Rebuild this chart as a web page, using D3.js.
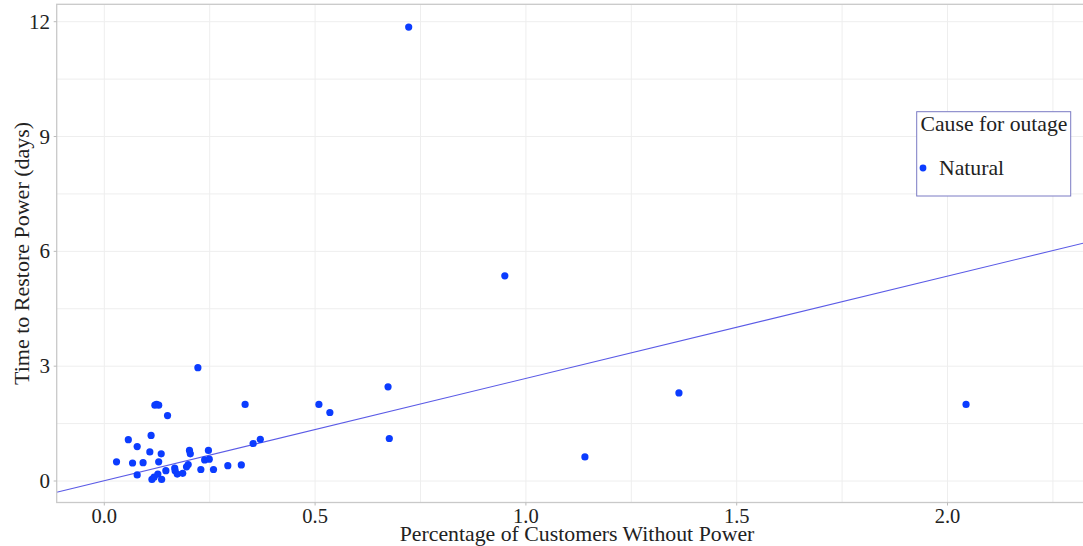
<!DOCTYPE html>
<head>
  <meta charset="utf-8">
  <script src="https://d3js.org/d3.v7.min.js"></script>
  <style>
    body { margin:0; background:#fff; }
    text { font-family: "Liberation Serif", "DejaVu Serif", serif; fill:#222; }
  </style>
</head>
<body>
<script>
// percentage of customers without power
var pctOut = [0.029, 0.057, 0.067, 0.078, 0.078, 0.092, 0.108, 0.111, 0.113, 0.118,
              0.120, 0.124, 0.129, 0.127, 0.129, 0.135, 0.136, 0.146, 0.150, 0.167,
              0.168, 0.173, 0.186, 0.195, 0.199, 0.202, 0.204, 0.222, 0.229, 0.238,
              0.247, 0.249, 0.259, 0.293, 0.325, 0.334, 0.353, 0.370, 0.509, 0.535,
              0.673, 0.676, 0.722, 0.950, 1.140, 1.363, 2.044];
// days to restore
var restoreDays = [0.50, 1.08, 0.47, 0.90, 0.16, 0.48, 0.76, 1.19, 0.04, 0.10,
                   1.98, 2.00, 1.98, 0.18, 0.50, 0.71, 0.04, 0.27, 1.71, 0.34,
                   0.27, 0.18, 0.20, 0.37, 0.43, 0.80, 0.71, 2.96, 0.30, 0.55,
                   0.80, 0.57, 0.30, 0.40, 0.42, 2.00, 0.98, 1.09, 2.00, 1.79,
                   2.46, 1.11, 11.86, 5.36, 0.63, 2.30, 2.00];
var causeLabels = ["Natural"];
var fitCoef = { intercept: 0.007, slope: 2.673 };
var xTicks = [0, 0.5, 1, 1.5, 2];
var xMinor = [0.25, 0.75, 1.25, 1.75, 2.25];
var yTicks = [0, 3, 6, 9, 12];
var yMinor = [1.5, 4.5, 7.5, 10.5];

var W = 1083, H = 546;
// panel edges (window.top is reserved, so use p* names)
var pL = 56.7, pR = 1100, pT = 4.3, pB = 502.5;

var svg = d3.select("body").append("svg").attr("width", W).attr("height", H);

var x = d3.scaleLinear().domain([0, 2]).range([104.3, 947.5]);
var y = d3.scaleLinear().domain([0, 12]).range([481, 21.7]);

svg.append("clipPath").attr("id", "panel")
  .append("rect").attr("x", pL).attr("y", pT)
  .attr("width", pR - pL).attr("height", pB - pT);

var grid = svg.append("g").attr("clip-path", "url(#panel)");
grid.selectAll(".vx").data(xTicks.concat(xMinor)).enter().append("line")
  .attr("x1", d => x(d)).attr("x2", d => x(d))
  .attr("y1", pT).attr("y2", pB)
  .attr("stroke", "#eeeeee").attr("stroke-width", 1);
grid.selectAll(".hy").data(yTicks.concat(yMinor)).enter().append("line")
  .attr("y1", d => y(d)).attr("y2", d => y(d))
  .attr("x1", pL).attr("x2", pR)
  .attr("stroke", "#eeeeee").attr("stroke-width", 1);

// fitted line
var x0 = x.invert(pL), x1 = x.invert(pR);
grid.append("line")
  .attr("x1", x(x0)).attr("y1", y(fitCoef.intercept + fitCoef.slope * x0))
  .attr("x2", x(x1)).attr("y2", y(fitCoef.intercept + fitCoef.slope * x1))
  .attr("stroke", "#5b5be6").attr("stroke-width", 1.1);

var pts = pctOut.map((v, i) => ({ x: v, y: restoreDays[i] }));
grid.selectAll(".dot").data(pts).enter().append("circle")
  .attr("cx", d => x(d.x)).attr("cy", d => y(d.y))
  .attr("r", 3.6).attr("fill", "#0b3cff");

// panel border
svg.append("rect").attr("x", pL).attr("y", pT)
  .attr("width", pR - pL).attr("height", pB - pT)
  .attr("fill", "none").attr("stroke", "#c9c9c9").attr("stroke-width", 1.3);

// ticks
svg.selectAll(".xt").data(xTicks).enter().append("line")
  .attr("x1", d => x(d)).attr("x2", d => x(d))
  .attr("y1", pB).attr("y2", pB + 3)
  .attr("stroke", "#bbb");
svg.selectAll(".yt").data(yTicks).enter().append("line")
  .attr("y1", d => y(d)).attr("y2", d => y(d))
  .attr("x1", pL - 3).attr("x2", pL)
  .attr("stroke", "#bbb");

svg.selectAll(".xl").data(xTicks).enter().append("text")
  .attr("x", d => x(d)).attr("y", 523)
  .attr("text-anchor", "middle").attr("font-size", 20.5)
  .text(d => d3.format(".1f")(d));
svg.selectAll(".yl").data(yTicks).enter().append("text")
  .attr("x", 50).attr("y", d => y(d) + 7)
  .attr("text-anchor", "end").attr("font-size", 21)
  .text(d => d);

svg.append("text").attr("x", 577).attr("y", 540.5)
  .attr("text-anchor", "middle").attr("font-size", 21.8)
  .text("Percentage of Customers Without Power");
svg.append("text")
  .attr("transform", "translate(29," + ((pT + pB) / 2) + ") rotate(-90)")
  .attr("text-anchor", "middle").attr("font-size", 22)
  .text("Time to Restore Power (days)");

// legend
var lg = svg.append("g");
lg.append("rect").attr("x", 916.7).attr("y", 111.7)
  .attr("width", 154).attr("height", 84.3)
  .attr("fill", "#fff").attr("stroke", "#7b7bc4").attr("stroke-width", 1);
lg.append("text").attr("x", 920.5).attr("y", 131)
  .attr("font-size", 21.7).text("Cause for outage");
lg.selectAll(".li").data(causeLabels).enter().append("circle")
  .attr("cx", 923).attr("cy", (d, i) => 168 + i * 25).attr("r", 3.4).attr("fill", "#0b3cff");
lg.selectAll(".lt").data(causeLabels).enter().append("text")
  .attr("x", 939).attr("y", (d, i) => 175 + i * 25)
  .attr("font-size", 21.7).text(d => d);
</script>
</body>
